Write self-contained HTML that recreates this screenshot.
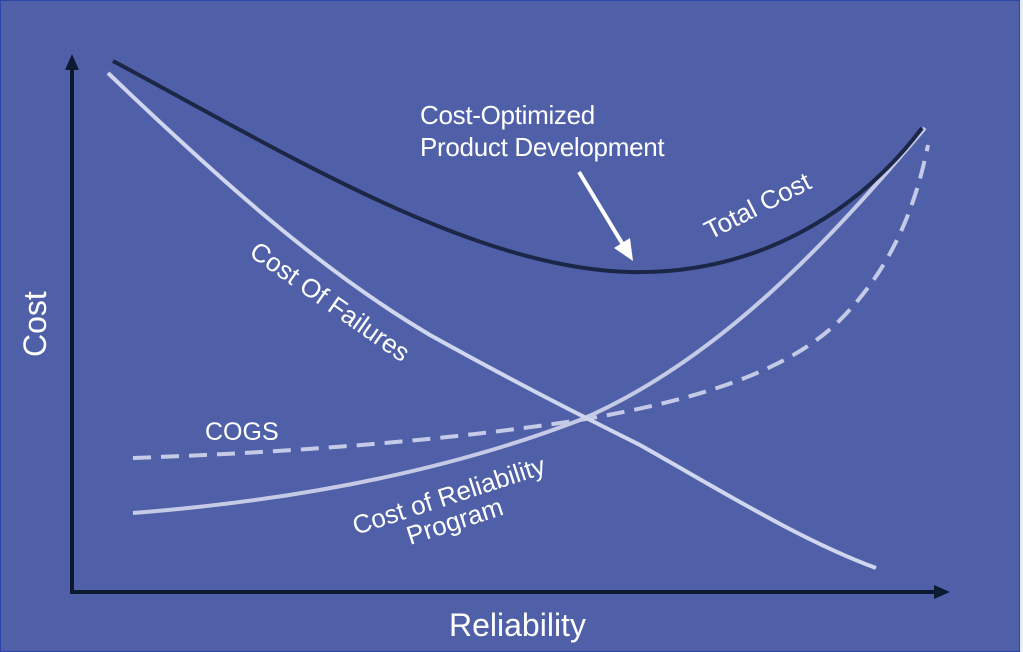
<!DOCTYPE html>
<html><head><style>
html,body{margin:0;padding:0;background:#4f60a8;}
svg{display:block}
text{font-family:"Liberation Sans",sans-serif;fill:#fff}
</style></head><body>
<svg width="1023" height="652" viewBox="0 0 1023 652" xmlns="http://www.w3.org/2000/svg">
<rect x="0" y="0" width="1023" height="652" fill="#4f60a8"/>
<rect x="0.5" y="0.5" width="1019" height="651" fill="none" stroke="#2c45a8" stroke-width="1"/>
<rect x="1020" y="0" width="3" height="652" fill="#e8ecf4"/>
<line x1="72" y1="593" x2="72" y2="68" stroke="#0d1a33" stroke-width="4"/>
<polygon points="72,54 65,70 79,70" fill="#0d1a33"/>
<line x1="70" y1="592" x2="936" y2="592" stroke="#0d1a33" stroke-width="4"/>
<polygon points="950,592 934,585 934,599" fill="#0d1a33"/>
<path d="M133,458 C300,452 450,440 580,420 C700,400 790,370 840,320 C890,270 915,210 928,145" fill="none" stroke="#c5cbe6" stroke-width="4" stroke-dasharray="18,10"/>
<path d="M133,513 C300,500 450,470 580,420 C720,360 830,240 925,128" fill="none" stroke="#c5cbe6" stroke-width="4"/>
<path d="M108,73 C220,180 320,270 430,335 C520,385 580,415 640,445 C720,490 800,540 876,568" fill="none" stroke="#d0d6ee" stroke-width="4"/>
<path d="M113,61 C280,150 470,268 630,272 C760,275 860,210 922,128" fill="none" stroke="#1c2647" stroke-width="4"/>
<line x1="579" y1="172" x2="625" y2="248" stroke="#fff" stroke-width="4"/>
<polygon points="633,261 614,248 630,238" fill="#fff"/>
<text x="420" y="124" font-size="26" letter-spacing="-0.3">Cost-Optimized</text>
<text x="420" y="156" font-size="26" letter-spacing="-0.3">Product Development</text>
<text x="0" y="0" font-size="26" transform="translate(710,240) rotate(-27)">Total Cost</text>
<text x="0" y="0" font-size="26" transform="translate(248,255) rotate(35)">Cost Of Failures</text>
<text x="205" y="440" font-size="25">COGS</text>
<text x="0" y="0" font-size="26" transform="translate(356,535) rotate(-18)">Cost of Reliability</text>
<text x="0" y="0" font-size="26" transform="translate(410,545) rotate(-18)">Program</text>
<text x="0" y="0" font-size="32" transform="translate(46,357) rotate(-90)">Cost</text>
<text x="449" y="636" font-size="32">Reliability</text>
</svg>
</body></html>
